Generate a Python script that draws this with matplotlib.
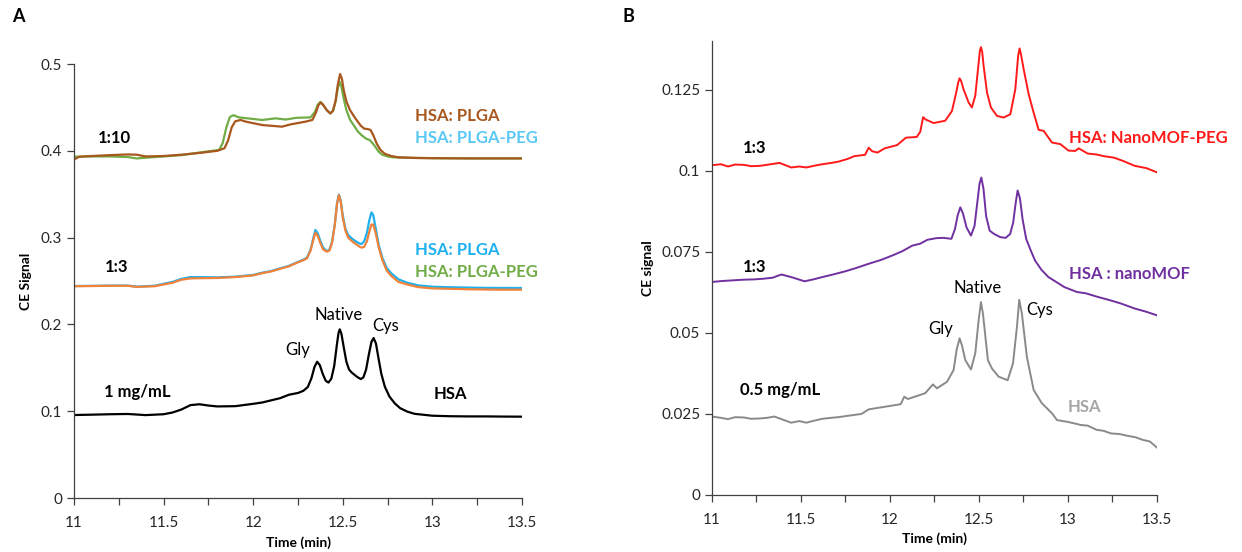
import matplotlib
matplotlib.use("Agg")
import matplotlib.pyplot as plt
from matplotlib.ticker import MultipleLocator, FuncFormatter

# ---- Panel A data (time in min, CE signal) ----
t_a_hsa = [11.0, 11.1, 11.2, 11.3, 11.4, 11.5, 11.55, 11.6, 11.65, 11.7, 11.75, 11.8, 11.9, 12.0,
           12.05, 12.1, 12.15, 12.2, 12.25, 12.28, 12.305, 12.325, 12.342, 12.357, 12.372, 12.388,
           12.405, 12.42, 12.436, 12.452, 12.466, 12.476, 12.483, 12.492, 12.505, 12.52, 12.535,
           12.55, 12.565, 12.58, 12.6, 12.615, 12.63, 12.645, 12.66, 12.672, 12.685, 12.70, 12.715,
           12.735, 12.76, 12.79, 12.82, 12.86, 12.9, 13.0, 13.1, 13.2, 13.3, 13.4, 13.5]
v_a_hsa = [0.0956, 0.0960, 0.0965, 0.0968, 0.0955, 0.0965, 0.0985, 0.1020, 0.1070, 0.1080, 0.1065,
           0.1055, 0.1058, 0.1085, 0.1100, 0.1125, 0.1150, 0.1190, 0.1210, 0.1235, 0.1280, 0.1380,
           0.1510, 0.1570, 0.1530, 0.1430, 0.1350, 0.1330, 0.1375, 0.1520, 0.1750, 0.1900, 0.1943,
           0.1895, 0.1740, 0.1570, 0.1480, 0.1445, 0.1420, 0.1395, 0.1370, 0.1390, 0.1480, 0.1650,
           0.1800, 0.1843, 0.1780, 0.1600, 0.1430, 0.1280, 0.1170, 0.1090, 0.1035, 0.0995, 0.0970,
           0.0948, 0.0942, 0.0940, 0.0940, 0.0938, 0.0937]

t_a_13 = [11.0, 11.1, 11.2, 11.3, 11.35, 11.45, 11.55, 11.6, 11.65, 11.7, 11.8, 11.9, 12.0, 12.05,
          12.1, 12.15, 12.2, 12.25, 12.28, 12.3, 12.32, 12.335, 12.347, 12.36, 12.375, 12.39, 12.41,
          12.425, 12.44, 12.455, 12.468, 12.478, 12.488, 12.5, 12.515, 12.53, 12.55, 12.57, 12.59,
          12.605, 12.62, 12.635, 12.648, 12.66, 12.67, 12.685, 12.7, 12.72, 12.745, 12.77, 12.81,
          12.86, 12.92, 13.0, 13.1, 13.2, 13.3, 13.4, 13.5]
v_a_13_plga = [0.2442, 0.2444, 0.2447, 0.2447, 0.2435, 0.2445, 0.2490, 0.2525, 0.2545, 0.2545,
               0.2542, 0.2550, 0.2570, 0.2595, 0.2615, 0.2645, 0.2675, 0.2720, 0.2745, 0.2770,
               0.2860, 0.2990, 0.3088, 0.3050, 0.2960, 0.2885, 0.2845, 0.2860, 0.2950, 0.3150,
               0.3400, 0.3495, 0.3430, 0.3250, 0.3100, 0.3030, 0.2990, 0.2960, 0.2935, 0.2926,
               0.2960, 0.3060, 0.3200, 0.3290, 0.3260, 0.3090, 0.2920, 0.2770, 0.2650, 0.2590,
               0.2520, 0.2480, 0.2450, 0.2434, 0.2428, 0.2424, 0.2421, 0.2420, 0.2419]
v_a_13_peg = [0.2440, 0.2442, 0.2445, 0.2445, 0.2432, 0.2440, 0.2480, 0.2515, 0.2530, 0.2532,
              0.2535, 0.2545, 0.2565, 0.2590, 0.2610, 0.2640, 0.2670, 0.2715, 0.2740, 0.2760,
              0.2850, 0.2970, 0.3057, 0.3020, 0.2935, 0.2865, 0.2838, 0.2850, 0.2940, 0.3140,
              0.3390, 0.3490, 0.3420, 0.3230, 0.3080, 0.3000, 0.2960, 0.2930, 0.2900, 0.2884,
              0.2895, 0.2960, 0.3070, 0.3150, 0.3150, 0.3040, 0.2890, 0.2745, 0.2620, 0.2560,
              0.2490, 0.2460, 0.2430, 0.2415, 0.2410, 0.2405, 0.2402, 0.2400, 0.2400]

t_a_110_plga = [11.0, 11.03, 11.1, 11.2, 11.3, 11.35, 11.4, 11.5, 11.6, 11.7, 11.8, 11.84, 11.86,
                11.88, 11.9, 11.93, 11.96, 12.05, 12.16, 12.21, 12.29, 12.33, 12.35, 12.365, 12.378,
                12.39, 12.41, 12.43, 12.445, 12.46, 12.472, 12.485, 12.495, 12.505, 12.52, 12.54,
                12.57, 12.6, 12.62, 12.64, 12.655, 12.67, 12.69, 12.71, 12.735, 12.77, 12.81, 12.9,
                13.0, 13.2, 13.5]
v_a_110_plga = [0.3900, 0.3932, 0.3940, 0.3950, 0.3958, 0.3955, 0.3935, 0.3940, 0.3955, 0.3975,
                0.4000, 0.4030, 0.4120, 0.4270, 0.4340, 0.4355, 0.4335, 0.4297, 0.4278, 0.4305,
                0.4335, 0.4355, 0.4440, 0.4530, 0.4555, 0.4530, 0.4470, 0.4430, 0.4460, 0.4580,
                0.4760, 0.4885, 0.4830, 0.4700, 0.4570, 0.4470, 0.4374, 0.4290, 0.4255, 0.4250,
                0.4240, 0.4180, 0.4080, 0.4010, 0.3965, 0.3940, 0.3925, 0.3918, 0.3915, 0.3912,
                0.3912]

t_a_110_peg = [11.0, 11.1, 11.2, 11.3, 11.35, 11.4, 11.5, 11.6, 11.7, 11.81, 11.83, 11.85, 11.87,
               11.89, 11.92, 12.05, 12.125, 12.18, 12.24, 12.32, 12.345, 12.36, 12.375, 12.39,
               12.41, 12.43, 12.445, 12.46, 12.472, 12.482, 12.492, 12.505, 12.52, 12.54, 12.56,
               12.585, 12.605, 12.63, 12.65, 12.665, 12.68, 12.7, 12.72, 12.75, 12.78, 12.9, 13.0,
               13.2, 13.5]
v_a_110_peg = [0.3932, 0.3935, 0.3935, 0.3928, 0.3912, 0.3920, 0.3935, 0.3950, 0.3980, 0.4010,
               0.4090, 0.4270, 0.4390, 0.4410, 0.4385, 0.4355, 0.4374, 0.4360, 0.4380, 0.4385,
               0.4450, 0.4530, 0.4565, 0.4530, 0.4470, 0.4430, 0.4460, 0.4570, 0.4720, 0.4797,
               0.4740, 0.4600, 0.4470, 0.4360, 0.4297, 0.4220, 0.4180, 0.4140, 0.4124, 0.4090,
               0.4050, 0.3990, 0.3955, 0.3935, 0.3925, 0.3918, 0.3915, 0.3913, 0.3913]

# ---- Panel B data ----
t_b_peg = [11.0, 11.05, 11.09, 11.13, 11.18, 11.22, 11.27, 11.33, 11.38, 11.445, 11.49, 11.53,
           11.58, 11.62, 11.67, 11.71, 11.76, 11.8, 11.86, 11.88, 11.9, 11.93, 11.97, 12.04,
           12.09, 12.15, 12.17, 12.186, 12.2, 12.245, 12.31, 12.348, 12.372, 12.383, 12.391, 12.40,
           12.413, 12.442, 12.46, 12.479, 12.498, 12.505, 12.511, 12.518, 12.526, 12.545, 12.567,
           12.601, 12.638, 12.676, 12.704, 12.72, 12.728, 12.736, 12.751, 12.779, 12.807, 12.835,
           12.863, 12.91, 12.957, 13.003, 13.041, 13.06, 13.11, 13.16, 13.2, 13.26, 13.31, 13.375,
           13.44, 13.5]
v_b_peg = [0.1017, 0.1020, 0.1013, 0.1019, 0.1018, 0.1014, 0.1015, 0.1020, 0.1024, 0.1010, 0.1013,
           0.1010, 0.1016, 0.1020, 0.1024, 0.1028, 0.1036, 0.1045, 0.1049, 0.1071, 0.1060, 0.1056,
           0.1069, 0.1079, 0.1102, 0.1104, 0.1120, 0.1165, 0.1158, 0.1147, 0.1154, 0.1184, 0.1241,
           0.1272, 0.1285, 0.1276, 0.1251, 0.1210, 0.1195, 0.1231, 0.1333, 0.1370, 0.1381, 0.1366,
           0.1323, 0.1241, 0.1195, 0.1169, 0.1164, 0.1174, 0.1251, 0.1355, 0.1377, 0.1358, 0.1313,
           0.1236, 0.1179, 0.1126, 0.1123, 0.1087, 0.1082, 0.1062, 0.1061, 0.1069, 0.1053, 0.1050,
           0.1045, 0.1040, 0.1030, 0.1015, 0.1008, 0.0995]

t_b_mof = [11.0, 11.06, 11.12, 11.18, 11.24, 11.29, 11.34, 11.39, 11.445, 11.52, 11.57, 11.62,
           11.68, 11.75, 11.81, 11.88, 11.95, 12.015, 12.07, 12.125, 12.17, 12.21, 12.26, 12.30,
           12.345, 12.365, 12.38, 12.395, 12.41, 12.43, 12.455, 12.475, 12.49, 12.503, 12.513,
           12.525, 12.54, 12.56, 12.585, 12.62, 12.65, 12.675, 12.692, 12.706, 12.717, 12.73,
           12.745, 12.765, 12.79, 12.815, 12.85, 12.89, 12.98, 13.05, 13.1, 13.16, 13.24, 13.3,
           13.375, 13.44, 13.5]
v_b_mof = [0.0657, 0.0660, 0.0662, 0.0664, 0.0665, 0.0667, 0.0670, 0.0680, 0.0672, 0.0659, 0.0665,
           0.0672, 0.0680, 0.0690, 0.0700, 0.0713, 0.0725, 0.0739, 0.0752, 0.0769, 0.0775, 0.0787,
           0.0792, 0.0793, 0.0790, 0.0820, 0.0862, 0.0887, 0.0868, 0.0825, 0.0800, 0.0830, 0.0900,
           0.0960, 0.0979, 0.0945, 0.0860, 0.0815, 0.0805, 0.0795, 0.0793, 0.0805, 0.0840, 0.0900,
           0.0939, 0.0915, 0.0850, 0.0790, 0.0755, 0.0723, 0.0695, 0.0672, 0.0641, 0.0626, 0.0622,
           0.0612, 0.0600, 0.0590, 0.0575, 0.0565, 0.0554]

t_b_hsa = [11.0, 11.05, 11.09, 11.13, 11.18, 11.22, 11.27, 11.31, 11.35, 11.40, 11.445, 11.49,
           11.53, 11.58, 11.62, 11.67, 11.71, 11.76, 11.8, 11.84, 11.88, 11.97, 12.06, 12.08, 12.1,
           12.15, 12.198, 12.241, 12.264, 12.32, 12.357, 12.375, 12.391, 12.405, 12.423, 12.455,
           12.479, 12.498, 12.511, 12.522, 12.55, 12.573, 12.61, 12.661, 12.691, 12.713, 12.726,
           12.741, 12.769, 12.807, 12.853, 12.91, 12.938, 12.994, 13.05, 13.07, 13.11, 13.16, 13.2,
           13.24, 13.29, 13.33, 13.38, 13.42, 13.46, 13.5]
v_b_hsa = [0.0242, 0.0238, 0.0234, 0.0240, 0.0239, 0.0235, 0.0236, 0.0238, 0.0242, 0.0232, 0.0223,
           0.0228, 0.0223, 0.0230, 0.0235, 0.0238, 0.0240, 0.0244, 0.0247, 0.0250, 0.0264, 0.0272,
           0.0280, 0.0303, 0.0296, 0.0305, 0.0314, 0.0341, 0.0329, 0.0349, 0.0385, 0.0450, 0.0483,
           0.0460, 0.0416, 0.0387, 0.0437, 0.0539, 0.0595, 0.0560, 0.0416, 0.0390, 0.0365, 0.0354,
           0.0406, 0.0518, 0.0602, 0.0559, 0.0426, 0.0324, 0.0283, 0.0252, 0.0231, 0.0226, 0.0219,
           0.0216, 0.0214, 0.0201, 0.0198, 0.0190, 0.0188, 0.0183, 0.0178, 0.0170, 0.0165, 0.0146]

x_ticks = [11, 11.5, 12, 12.5, 13, 13.5]
y_ticks_a = [0, 0.1, 0.2, 0.3, 0.4, 0.5]
y_ticks_b = [0, 0.025, 0.05, 0.075, 0.1, 0.125]

plt.rcParams['font.family'] = ["Lato", "DejaVu Sans"]
plt.rcParams['font.size'] = 10

fig = plt.figure(figsize=(12.42, 5.52), dpi=100)
fig.patch.set_facecolor("white")

# axes placed in pixels of the 1242x552 canvas
axA = fig.add_axes([74 / 1242, 1 - 498 / 552, 448 / 1242, 434 / 552])
axB = fig.add_axes([712 / 1242, 1 - 495 / 552, 445 / 1242, 454 / 552])

fmt = FuncFormatter(lambda v, p: f"{v:g}")


def style_axis(ax):
    ax.set_xlim(11, 13.5)
    ax.set_xticks(x_ticks)
    ax.xaxis.set_minor_locator(MultipleLocator(0.25))
    ax.xaxis.set_major_formatter(fmt)
    ax.yaxis.set_major_formatter(fmt)
    ax.spines['top'].set_visible(False)
    ax.spines['right'].set_visible(False)
    for s in ['left', 'bottom']:
        ax.spines[s].set_color('#404040')
        ax.spines[s].set_linewidth(0.9)
    ax.tick_params(which='both', direction='out', length=5, width=0.9, color='#404040',
                   labelsize=11, labelcolor='#262626')
    ax.tick_params(axis='x', pad=8)


# ---- Panel A ----
axA.plot(t_a_110_peg, v_a_110_peg, color='#70AD47', lw=1.6)
axA.plot(t_a_110_plga, v_a_110_plga, color='#A8581E', lw=1.6)
axA.plot(t_a_13, v_a_13_plga, color='#1EB1EE', lw=1.6)
axA.plot(t_a_13, v_a_13_peg, color='#F0823A', lw=1.6)
axA.plot(t_a_hsa, v_a_hsa, color='black', lw=1.6)
axA.set_ylim(0, 0.5)
axA.set_yticks(y_ticks_a)
style_axis(axA)
axA.set_xlabel("Time (min)", fontsize=10, fontweight='bold', va='center')
axA.set_ylabel("CE Signal", fontsize=10, fontweight='bold', va='center')
axA.xaxis.set_label_coords(0.5, -0.104)
axA.yaxis.set_label_coords(-0.107, 0.5)

bold = dict(fontsize=12, fontweight='bold', va='center')
axA.text(11.134, 0.415, "1:10", color='black', **bold)
axA.text(12.905, 0.440, "HSA: PLGA", color='#A8581E', **bold)
axA.text(12.905, 0.415, "HSA: PLGA-PEG", color='#5BC8F5', **bold)
axA.text(11.17, 0.266, "1:3", color='black', **bold)
axA.text(12.905, 0.2857, "HSA: PLGA", color='#1EB1EE', **bold)
axA.text(12.905, 0.260, "HSA: PLGA-PEG", color='#70AD47', **bold)
axA.text(11.165, 0.122, "1 mg/mL", color='black', **bold)
axA.text(13.007, 0.1195, "HSA", color='black', **bold)
axA.text(12.25, 0.1705, "Gly", fontsize=12, ha='center', va='center')
axA.text(12.477, 0.211, "Native", fontsize=12, ha='center', va='center')
axA.text(12.74, 0.198, "Cys", fontsize=12, ha='center', va='center')

# ---- Panel B ----
axB.plot(t_b_peg, v_b_peg, color='#FF1A1A', lw=1.4)
axB.plot(t_b_mof, v_b_mof, color='#7030A0', lw=1.4)
axB.plot(t_b_hsa, v_b_hsa, color='#8A8A8A', lw=1.4)
axB.set_ylim(0, 0.14)
axB.set_yticks(y_ticks_b)
style_axis(axB)
axB.set_xlabel("Time (min)", fontsize=10, fontweight='bold', va='center')
axB.set_ylabel("CE signal", fontsize=10, fontweight='bold', va='center')
axB.xaxis.set_label_coords(0.5, -0.097)
axB.yaxis.set_label_coords(-0.144, 0.5)

axB.text(11.176, 0.1071, "1:3", color='black', **bold)
axB.text(13.008, 0.1101, "HSA: NanoMOF-PEG", color='#FF1A1A', **bold)
axB.text(11.176, 0.0702, "1:3", color='black', **bold)
axB.text(13.008, 0.0683, "HSA : nanoMOF", color='#7030A0', **bold)
axB.text(11.16, 0.0324, "0.5 mg/mL", color='black', **bold)
axB.text(13.0, 0.0272, "HSA", color='#A6A6A6', **bold)
axB.text(12.283, 0.0513, "Gly", fontsize=12, ha='center', va='center')
axB.text(12.493, 0.0637, "Native", fontsize=12, ha='center', va='center')
axB.text(12.842, 0.057, "Cys", fontsize=12, ha='center', va='center')

# panel letters
fig.text(12 / 1242, 1 - 16 / 552, "A", fontsize=13, fontweight='bold', va='center')
fig.text(622 / 1242, 1 - 16 / 552, "B", fontsize=13, fontweight='bold', va='center')

fig.savefig("out.png", dpi=100, facecolor="white")
